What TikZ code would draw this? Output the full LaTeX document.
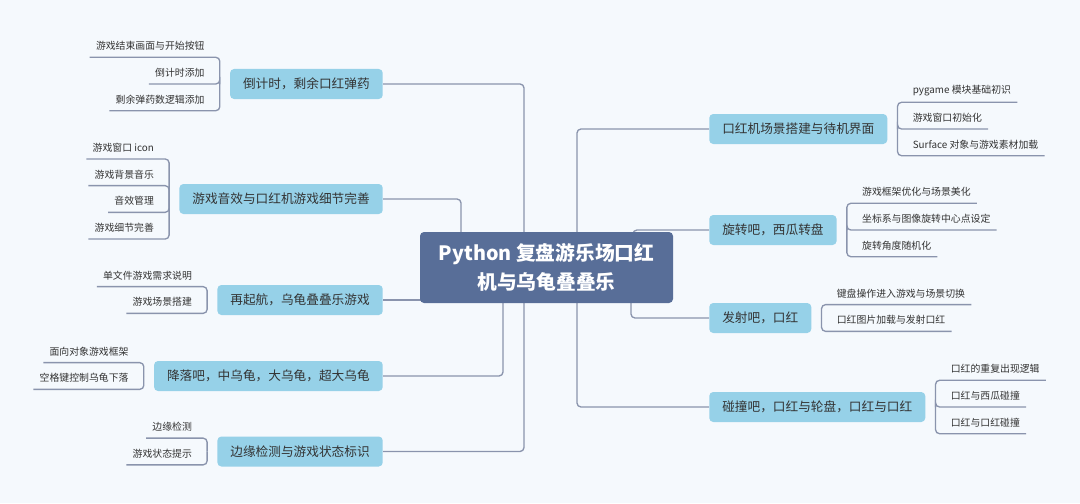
\documentclass[tikz,border=0pt]{standalone}
\usepackage{fontspec}
\setmainfont{Noto Sans CJK SC}
\usetikzlibrary{calc,positioning,backgrounds}

\definecolor{bgc}{HTML}{F5F9FD}
\definecolor{boxblue}{HTML}{96D1E8}
\definecolor{rootblue}{HTML}{586E98}
\definecolor{linec}{HTML}{8A94AD}
\definecolor{txt}{HTML}{333333}

\tikzset{
  link/.style={draw=linec, line width=1pt, rounded corners=3pt},
  root/.style={fill=rootblue, rounded corners=3pt, text=white, align=center,
    minimum width=189.75pt, minimum height=53.25pt,
    font=\fontsize{14.8}{21.5}\selectfont\bfseries},
  branch/.style={fill=boxblue, rounded corners=3pt, inner xsep=9.75pt, inner ysep=0pt,
    minimum height=22.5pt, text=txt, font=\fontsize{9.5}{11}\selectfont},
  leafL/.style={anchor=south east, inner xsep=4.5pt, inner ysep=0pt,
    minimum height=16.5pt, text=txt, font=\fontsize{7.4}{9}\selectfont},
  leafR/.style={leafL, anchor=south west},
}

\begin{document}
\begin{tikzpicture}[x=0.75pt,y=-0.75pt]
    \useasboundingbox (0,0) rectangle (1080,503);

    % Root topic
    \node[root] (root) at (546.5,267.5) {Python 复盘游乐场口红\\机与乌龟叠叠乐};

    % Countdown branch (left)
    \node[branch, anchor=east] (cd) at (383,84) {倒计时，剩余口红弹药};
    \coordinate (cdk) at ($(cd.west)+(-10,0)$);
    \foreach \t [count=\i] in {游戏结束画面与开始按钮, 倒计时添加, 剩余弹药数逻辑添加} {
        \node[leafL] (cd\i) at ($(cdk)+(-9,{(\i-2)*26.7})$) {\t};
        \draw[link] (cdk) |- (cd\i.south east) -- (cd\i.south west);
    }

    % Sound branch (left)
    \node[branch, anchor=east] (snd) at (383,199) {游戏音效与口红机游戏细节完善};
    \coordinate (sndk) at ($(snd.west)+(-10,0)$);
    \foreach \t [count=\i] in {游戏窗口 icon, 游戏背景音乐, 音效管理, 游戏细节完善} {
        \node[leafL] (snd\i) at ($(sndk)+(-9,{(\i-2.5)*26.7})$) {\t};
        \draw[link] (sndk) |- (snd\i.south east) -- (snd\i.south west);
    }

    % Restart branch (left)
    \node[branch, anchor=east] (rst) at (383,300) {再起航，乌龟叠叠乐游戏};
    \coordinate (rstk) at ($(rst.west)+(-10,0)$);
    \foreach \t [count=\i] in {单文件游戏需求说明, 游戏场景搭建} {
        \node[leafL] (rst\i) at ($(rstk)+(-9,{(\i-1.5)*26.7})$) {\t};
        \draw[link] (rstk) |- (rst\i.south east) -- (rst\i.south west);
    }

    % Drop branch (left)
    \node[branch, anchor=east] (drp) at (383,376) {降落吧，中乌龟，大乌龟，超大乌龟};
    \coordinate (drpk) at ($(drp.west)+(-10,0)$);
    \foreach \t [count=\i] in {面向对象游戏框架, 空格键控制乌龟下落} {
        \node[leafL] (drp\i) at ($(drpk)+(-9,{(\i-1.5)*26.7})$) {\t};
        \draw[link] (drpk) |- (drp\i.south east) -- (drp\i.south west);
    }

    % Edge branch (left)
    \node[branch, anchor=east] (edg) at (383,451.5) {边缘检测与游戏状态标识};
    \coordinate (edgk) at ($(edg.west)+(-10,0)$);
    \foreach \t [count=\i] in {边缘检测, 游戏状态提示} {
        \node[leafL] (edg\i) at ($(edgk)+(-9,{(\i-1.5)*26.7})$) {\t};
        \draw[link] (edgk) |- (edg\i.south east) -- (edg\i.south west);
    }

    % Scene branch (right)
    \node[branch, anchor=west] (scn) at (709,129) {口红机场景搭建与待机界面};
    \coordinate (scnk) at ($(scn.east)+(10,0)$);
    \foreach \t [count=\i] in {pygame 模块基础初识, 游戏窗口初始化, Surface 对象与游戏素材加载} {
        \node[leafR] (scn\i) at ($(scnk)+(9,{(\i-2)*26.7})$) {\t};
        \draw[link] (scnk) |- (scn\i.south west) -- (scn\i.south east);
    }

    % Rotate branch (right)
    \node[branch, anchor=west] (rot) at (709,230) {旋转吧，西瓜转盘};
    \coordinate (rotk) at ($(rot.east)+(10,0)$);
    \foreach \t [count=\i] in {游戏框架优化与场景美化, 坐标系与图像旋转中心点设定, 旋转角度随机化} {
        \node[leafR] (rot\i) at ($(rotk)+(9,{(\i-2)*26.7})$) {\t};
        \draw[link] (rotk) |- (rot\i.south west) -- (rot\i.south east);
    }

    % Shoot branch (right)
    \node[branch, anchor=west] (sht) at (709,318) {发射吧，口红};
    \coordinate (shtk) at ($(sht.east)+(10,0)$);
    \foreach \t [count=\i] in {键盘操作进入游戏与场景切换, 口红图片加载与发射口红} {
        \node[leafR] (sht\i) at ($(shtk)+(9,{(\i-1.5)*26.7})$) {\t};
        \draw[link] (shtk) |- (sht\i.south west) -- (sht\i.south east);
    }

    % Collision branch (right)
    \node[branch, anchor=west] (hit) at (709,407) {碰撞吧，口红与轮盘，口红与口红};
    \coordinate (hitk) at ($(hit.east)+(10,0)$);
    \foreach \t [count=\i] in {口红的重复出现逻辑, 口红与西瓜碰撞, 口红与口红碰撞} {
        \node[leafR] (hit\i) at ($(hitk)+(9,{(\i-2)*26.7})$) {\t};
        \draw[link] (hitk) |- (hit\i.south west) -- (hit\i.south east);
    }

    % Links into the root, kept behind it
    \begin{scope}[on background layer]
        \fill[bgc] (0,0) rectangle (1080,503);
        \draw[link] (cd.east) -| ($(root.center)+(-22.5,0)$);
        \draw[link] (snd.east) -| ($(root.center)+(-85.5,0)$);
        \draw[link] (rst.east) -- (rst.east -| root.center);
        \draw[link] (drp.east) -| ($(root.center)+(-43.5,0)$);
        \draw[link] (edg.east) -| ($(root.center)+(-22.5,0)$);
        \draw[link] (scn.west) -| ($(root.center)+(30.5,0)$);
        \draw[link] (rot.west) -| ($(root.center)+(86.5,0)$);
        \draw[link] (sht.west) -| ($(root.center)+(84.5,0)$);
        \draw[link] (hit.west) -| ($(root.center)+(30.5,0)$);
    \end{scope}

\end{tikzpicture}
\end{document}
